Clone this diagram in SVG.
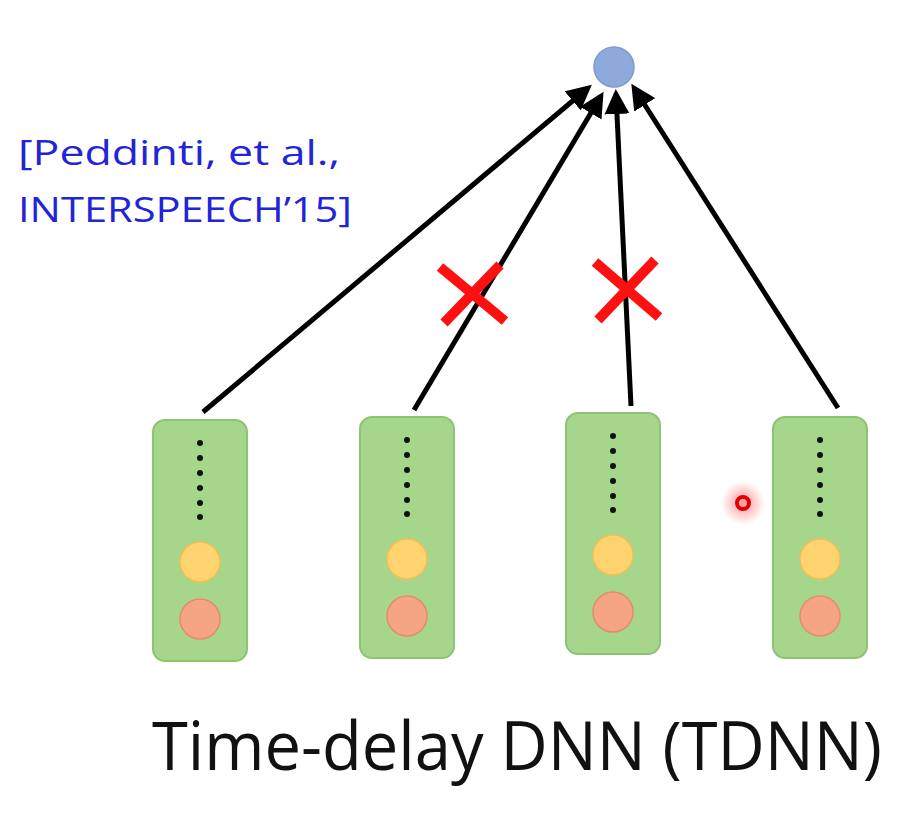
<svg xmlns="http://www.w3.org/2000/svg" width="922" height="822" viewBox="0 0 922 822">
<defs>
<style>
.col{fill:#a6d58c;stroke:#8cc474;stroke-width:2}
.dot{fill:#111}
.y{fill:#ffd36e;stroke:#f3bf55;stroke-width:1.5}
.r{fill:#f5a584;stroke:#e58c6c;stroke-width:1.5}
.edge{stroke:#000;stroke-width:5;fill:none;marker-end:url(#ah)}
.x{stroke:#ff1010;stroke-width:10;stroke-linecap:butt}
.ref{font-family:"Open Sans","Liberation Sans",sans-serif;font-size:34px;fill:#2323d8}
.title{font-family:"Open Sans","Liberation Sans",sans-serif;font-size:68px;fill:#111}
</style>
<marker id="ah" markerWidth="5" markerHeight="5" refX="4" refY="2.5" orient="auto" markerUnits="strokeWidth">
<path d="M0,0 L5,2.5 L0,5 z" fill="#000"/>
</marker>
<radialGradient id="glow">
<stop offset="0" stop-color="#ff4040" stop-opacity="0.55"/>
<stop offset="1" stop-color="#ff4040" stop-opacity="0"/>
</radialGradient>
<g id="colshape">
<rect x="-47" y="0" width="94" height="241" rx="12" class="col"/>
<circle cx="0" cy="23" r="3" class="dot"/>
<circle cx="0" cy="38" r="3" class="dot"/>
<circle cx="0" cy="53" r="3" class="dot"/>
<circle cx="0" cy="68" r="3" class="dot"/>
<circle cx="0" cy="83" r="3" class="dot"/>
<circle cx="0" cy="97" r="3" class="dot"/>
<circle cx="0" cy="142" r="20" class="y"/>
<circle cx="0" cy="199" r="20" class="r"/>
</g>
</defs>
<rect width="922" height="822" fill="#fff"/>
<g id="output">
<circle cx="614" cy="67" r="20" fill="#8eaadb" stroke="#7f9bcf" stroke-width="1.5"/>
</g>
<g id="col1"><use href="#colshape" x="200" y="420"/></g>
<g id="col2"><use href="#colshape" x="407" y="417"/></g>
<g id="col3"><use href="#colshape" x="613" y="413"/></g>
<g id="col4"><use href="#colshape" x="820" y="417"/></g>
<g id="connectors">
<line x1="203" y1="412" x2="588" y2="88" class="edge"/>
<line x1="414" y1="410" x2="601" y2="96" class="edge"/>
<line x1="631" y1="406" x2="616" y2="94" class="edge"/>
<line x1="838" y1="408" x2="634" y2="88" class="edge"/>
</g>
<g id="crosses">
<line x1="440" y1="267" x2="505" y2="321" class="x"/>
<line x1="444" y1="323" x2="500" y2="265" class="x"/>
<line x1="595" y1="262" x2="659" y2="317" class="x"/>
<line x1="598" y1="320" x2="655" y2="260" class="x"/>
</g>
<g id="pointer">
<circle cx="743" cy="503" r="22" fill="url(#glow)"/>
<circle cx="743" cy="503" r="6" fill="none" stroke="#e00000" stroke-width="4"/>
</g>
<g id="labels">
<text x="18" y="165" class="ref" textLength="322" lengthAdjust="spacingAndGlyphs">[Peddinti, et al.,</text>
<text x="18" y="222" class="ref" textLength="334" lengthAdjust="spacingAndGlyphs">INTERSPEECH’15]</text>
<text x="152" y="770" class="title" textLength="730" lengthAdjust="spacingAndGlyphs">Time-delay DNN (TDNN)</text>
</g>
</svg>
